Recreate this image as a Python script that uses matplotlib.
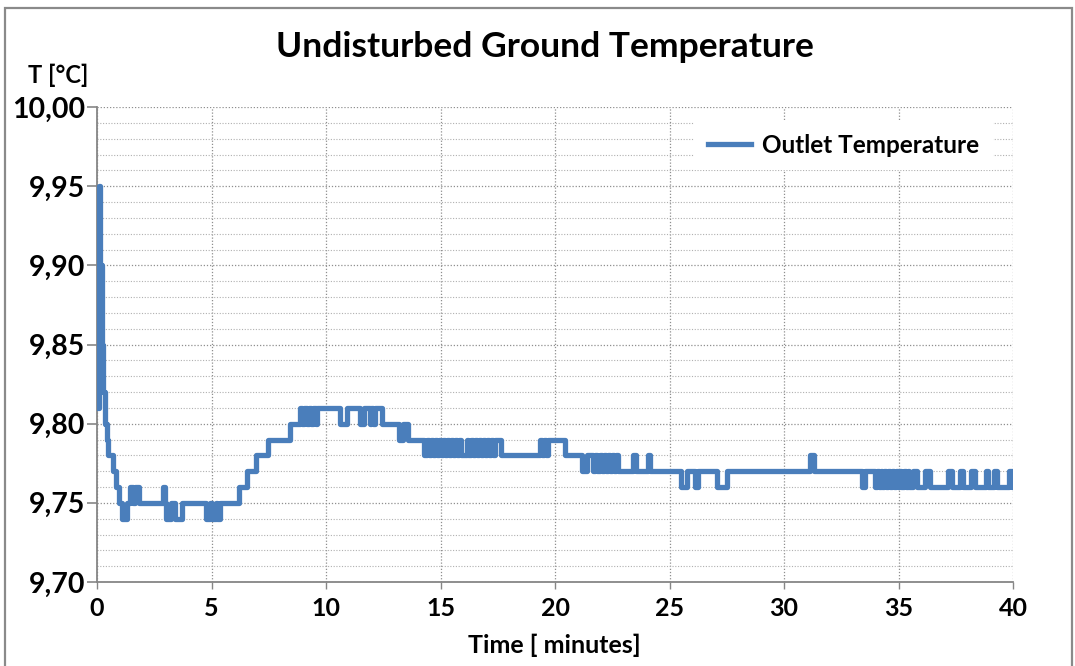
import matplotlib
matplotlib.use("Agg")
import matplotlib.pyplot as plt
from matplotlib.patches import Rectangle
import numpy as np

# Outlet temperature log: time of each reading change [min] and the new value [°C]
time_min = [
    0.00, 0.08, 0.15, 0.20, 0.25, 0.35, 0.42, 0.48, 0.70, 0.83, 0.96,
    1.10, 1.30, 1.42, 1.58, 1.65, 1.83, 2.90, 2.98, 3.02, 3.22, 3.40, 3.70,
    4.78, 4.95, 5.00, 5.20, 5.25, 5.38, 6.20, 6.55, 6.95, 7.47, 8.43,
    8.86, 8.95, 9.05, 9.15, 9.25, 9.35, 9.45, 9.55, 9.62,
    10.62, 10.90, 11.50, 11.65, 11.90, 11.98, 12.05, 12.12, 12.45,
    13.20, 13.35, 13.60,
    14.30, 14.40, 14.48, 14.58, 14.66, 14.74, 14.85, 14.92, 15.02, 15.10,
    15.18, 15.30, 15.38, 15.46, 15.55, 15.62, 15.72, 15.80, 15.90, 16.15,
    16.22, 16.32, 16.40, 16.50, 16.60, 16.68, 16.78, 16.86, 16.95, 17.05,
    17.12, 17.22, 17.30, 17.40, 17.65,
    19.35, 19.45, 19.52, 19.62, 19.70, 20.45, 21.20, 21.40,
    21.65, 21.75, 21.85, 21.95, 22.05, 22.12, 22.22, 22.30, 22.40, 22.48,
    22.58, 22.65, 22.75, 23.40, 23.55, 24.05, 24.15,
    25.50, 25.75, 26.10, 26.25, 27.08, 27.50, 31.15, 31.30, 33.40, 33.55,
    33.98, 34.06, 34.14, 34.22, 34.30, 34.38, 34.46, 34.54, 34.62, 34.72,
    34.80, 34.88, 34.96, 35.04, 35.12, 35.22, 35.32, 35.40, 35.48,
    35.65, 35.80, 36.15, 36.38, 37.15, 37.35, 37.70, 37.80, 38.18, 38.35,
    38.80, 38.92, 39.15, 39.30, 39.82, 39.95, 40.00,
]
outlet_temp = [
    9.81, 9.95, 9.90, 9.85, 9.82, 9.80, 9.79, 9.78, 9.77, 9.76, 9.75,
    9.74, 9.75, 9.76, 9.75, 9.76, 9.75, 9.76, 9.75, 9.74, 9.75, 9.74, 9.75,
    9.74, 9.75, 9.74, 9.75, 9.74, 9.75, 9.76, 9.77, 9.78, 9.79, 9.80,
    9.81, 9.80, 9.81, 9.80, 9.81, 9.80, 9.81, 9.80, 9.81,
    9.80, 9.81, 9.80, 9.81, 9.80, 9.81, 9.80, 9.81, 9.80,
    9.79, 9.80, 9.79,
    9.78, 9.79, 9.78, 9.79, 9.78, 9.79, 9.78, 9.79, 9.78, 9.79,
    9.78, 9.79, 9.78, 9.79, 9.78, 9.79, 9.78, 9.79, 9.78, 9.79,
    9.78, 9.79, 9.78, 9.79, 9.78, 9.79, 9.78, 9.79, 9.78, 9.79,
    9.78, 9.79, 9.78, 9.79, 9.78,
    9.79, 9.78, 9.79, 9.78, 9.79, 9.78, 9.77, 9.78,
    9.77, 9.78, 9.77, 9.78, 9.77, 9.78, 9.77, 9.78, 9.77, 9.78,
    9.77, 9.78, 9.77, 9.78, 9.77, 9.78, 9.77,
    9.76, 9.77, 9.76, 9.77, 9.76, 9.77, 9.78, 9.77, 9.76, 9.77,
    9.76, 9.77, 9.76, 9.77, 9.76, 9.77, 9.76, 9.77, 9.76, 9.77,
    9.76, 9.77, 9.76, 9.77, 9.76, 9.77, 9.76, 9.77, 9.76,
    9.77, 9.76, 9.77, 9.76, 9.77, 9.76, 9.77, 9.76, 9.77, 9.76,
    9.77, 9.76, 9.77, 9.76, 9.77, 9.76, 9.76,
]

x_ticks = [0, 5, 10, 15, 20, 25, 30, 35, 40]
y_ticks = [9.70, 9.75, 9.80, 9.85, 9.90, 9.95, 10.00]
y_tick_labels = ["9,70", "9,75", "9,80", "9,85", "9,90", "9,95", "10,00"]

FONT = ["Lato", "DejaVu Sans"]
plt.rcParams["font.family"] = FONT

W, H = 1075, 666
fig = plt.figure(figsize=(W / 100, H / 100), dpi=100)
fig.patch.set_facecolor("white")

x0, x1, y0, y1 = 97, 1013, 107, 582
ax = fig.add_axes([x0 / W, 1 - y1 / H, (x1 - x0) / W, (y1 - y0) / H])

ax.plot(time_min, outlet_temp, drawstyle="steps-post", color="#4a7ebb",
        lw=3.8, solid_joinstyle="round", label="Outlet Temperature", zorder=3)

ax.set_xlim(0, 40)
ax.set_ylim(9.70, 10.00)
ax.set_xticks(x_ticks)
ax.set_xticklabels([str(t) for t in x_ticks])
ax.set_yticks(y_ticks)
ax.set_yticklabels(y_tick_labels)
ax.set_yticks(np.round(np.arange(9.70, 10.0001, 0.01), 2), minor=True)

dots = (0, (1, 1.5))
ax.grid(which="major", axis="both", linestyle=dots, color="#8f8f8f", lw=0.9, zorder=0)
ax.grid(which="minor", axis="y", linestyle=dots, color="#b0b0b0", lw=0.8, zorder=0)
ax.set_axisbelow(True)

for side in ("top", "right"):
    ax.spines[side].set_visible(False)
for side in ("left", "bottom"):
    ax.spines[side].set_color("#868686")
    ax.spines[side].set_linewidth(1.3)

ax.tick_params(axis="y", which="major", direction="out", length=7, width=1.2,
               color="#868686", pad=1.5, labelsize=20.5)
ax.tick_params(axis="x", which="major", direction="out", length=5, width=1.0,
               color="#868686", pad=6, labelsize=18)
ax.tick_params(which="minor", length=0)
for lab in ax.get_xticklabels() + ax.get_yticklabels():
    lab.set_fontweight("bold")

leg = ax.legend(loc="upper right", bbox_to_anchor=(0.978, 0.972), frameon=True,
                fancybox=False, framealpha=1, edgecolor="none", facecolor="white",
                handlelength=1.8, handletextpad=0.45, borderpad=0.55,
                borderaxespad=0.0,
                prop={"family": FONT, "size": 17.5, "weight": "bold"})

fig.text(0.507, 1 - 47 / H, "Undisturbed Ground Temperature", ha="center",
         va="center", fontsize=25.5, fontweight="bold")
fig.text(28 / W, 1 - 75 / H, "T [°C]", ha="left", va="center",
         fontsize=17, fontweight="bold")
fig.text(0.516, 1 - 645 / H, "Time [ minutes]", ha="center", va="center",
         fontsize=18, fontweight="bold")

# chart frame
fig.add_artist(Rectangle((5 / W, -0.05), (W - 8) / W, 1.05 - 8 / H,
                         transform=fig.transFigure, fill=False,
                         edgecolor="#8a8a8a", lw=1.6))

fig.savefig("out.png", dpi=100)
